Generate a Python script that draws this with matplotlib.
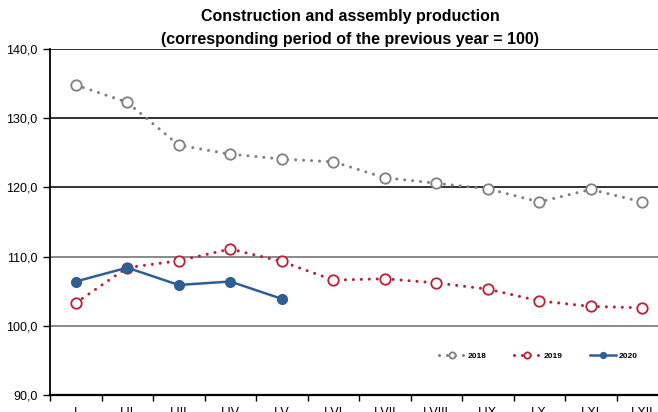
import numpy as np
import matplotlib
matplotlib.use("Agg")
import matplotlib.pyplot as plt

plt.rcParams['font.family'] = ['Liberation Sans Narrow', 'Liberation Sans', 'DejaVu Sans']

periods = ['I', 'I-II', 'I-III', 'I-IV', 'I-V', 'I-VI', 'I-VII', 'I-VIII',
           'I-IX', 'I-X', 'I-XI', 'I-XII']
y2018 = [134.8, 132.3, 126.1, 124.8, 124.1, 123.7, 121.4, 120.6, 119.8, 117.9, 119.7, 117.9]
y2019 = [103.3, 108.4, 109.4, 111.1, 109.3, 106.6, 106.8, 106.2, 105.3, 103.6, 102.8, 102.6]
y2020 = [106.4, 108.4, 105.9, 106.4, 103.9]
yticks = [90, 100, 110, 120, 130, 140]

gray = '#808080'
red = '#BE1E35'
blue = '#2E5E96'

fig = plt.figure(figsize=(6.58, 4.12), dpi=100)
ax = fig.add_axes([50/658, 17/412, 618/658, 346/412])

x = np.arange(len(periods))
dots = (0, (0.01, 2.6))
ax.plot(x, y2018, color=gray, lw=2.2, ls=dots, dash_capstyle='round',
        marker='o', ms=7.5, mfc='white', mec=gray, mew=1.3, label='2018', zorder=3)
ax.plot(x, y2019, color=red, lw=2.2, ls=dots, dash_capstyle='round',
        marker='o', ms=7.5, mfc='white', mec=red, mew=1.3, label='2019', zorder=3)
ax.plot(x[:len(y2020)], y2020, color=blue, lw=1.8, marker='o', ms=7,
        mfc=blue, mec=blue, label='2020', zorder=4)

ax.set_xlim(-0.5, len(periods) - 0.5)
ax.set_ylim(90, 140)
ax.set_yticks(yticks)
ax.set_yticklabels([f"{v:.1f}".replace('.', ',') for v in yticks], fontsize=9)

for v in yticks[1:]:
    c = gray if v <= 110 else '#222222'
    ax.axhline(v, color=c, lw=1.3, zorder=1)

ax.set_xticks(np.arange(len(periods) + 1) - 0.5)
ax.set_xticklabels([])
ax.set_xticks(x, minor=True)
ax.set_xticklabels(periods, minor=True, fontsize=9)
ax.tick_params(axis='x', which='major', length=4, width=1, color='black')
ax.tick_params(axis='x', which='minor', length=0, pad=9)
ax.tick_params(axis='y', length=5, width=1, pad=4)

for s in ['top', 'right']:
    ax.spines[s].set_visible(False)
ax.spines['left'].set_linewidth(1.3)
ax.spines['bottom'].set_linewidth(1.6)

ax.legend(loc='center', bbox_to_anchor=(0.79, 0.113), ncol=3, frameon=False,
          prop={'size': 6, 'weight': 'bold'}, handlelength=3.2, columnspacing=3.3,
          handletextpad=0.3, markerscale=0.6)

fig.text(0.532, 0.959, 'Construction and assembly production', ha='center', va='center',
         fontsize=11.5, fontweight='bold')
fig.text(0.532, 0.903, '(corresponding period of the previous year = 100)', ha='center',
         va='center', fontsize=11.5, fontweight='bold')

fig.savefig('out.png', dpi=100)
